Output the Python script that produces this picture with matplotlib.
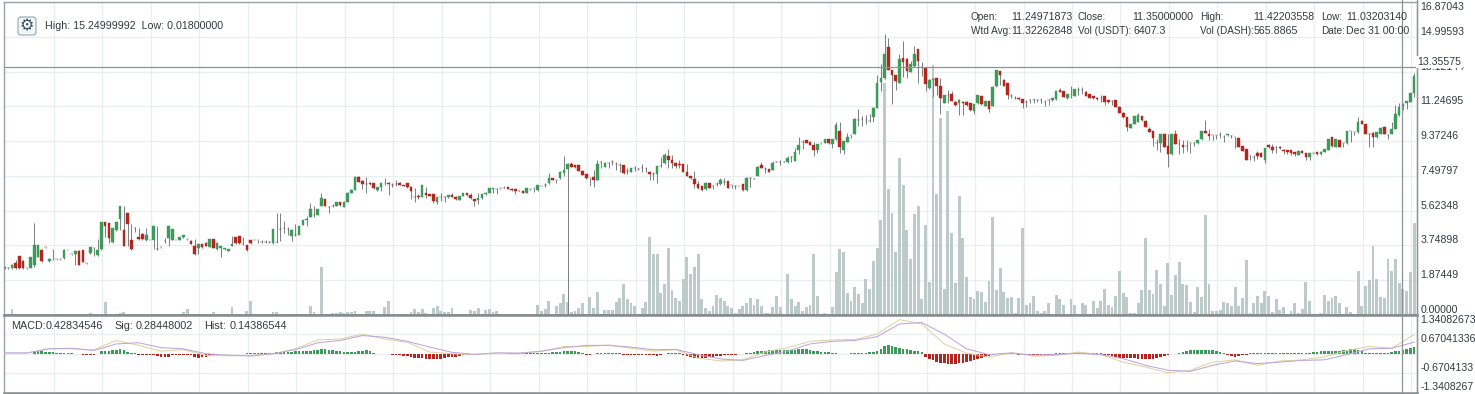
import numpy as np
from matplotlib import pyplot as plt
from matplotlib.patches import FancyBboxPatch

plt.rcParams['font.family'] = ['Liberation Sans', 'DejaVu Sans']

# candle data, one entry per candle
open_prices = [
    2.53,2.55,2.55,2.78,3.16,2.9,2.52,2.55,2.7,3.14,
    3.5,3.64,2.9,3.5,3.0,3.0,3.05,3.5,3.27,3.3,
    3.47,3.5,2.78,3.32,3.6,3.25,3.54,4.99,4.94,3.91,
    4.6,5.2,4.58,5.48,4.04,4.7,4.22,4.36,4.04,4.04,
    4.04,3.54,3.64,4.0,4.13,4.04,4.04,4.04,4.18,4.08,
    4.0,3.72,3.63,3.8,3.9,3.68,4.07,3.54,3.63,3.55,
    3.45,3.72,4.18,4.25,3.8,3.76,4.04,4.04,4.04,3.95,
    3.95,3.95,3.86,3.95,4.64,4.68,4.62,4.25,4.3,4.32,
    4.85,5.12,5.3,5.37,5.4,5.87,6.25,5.83,5.87,5.87,
    6.08,5.83,6.1,6.6,6.75,7.45,7.23,7.05,7.12,7.09,
    6.76,6.88,7.13,7.13,6.98,7.05,7.09,7.0,7.09,6.91,
    6.37,6.41,6.37,6.55,6.5,6.5,6.07,6.37,6.37,6.34,
    6.46,6.37,6.2,6.41,6.55,6.46,6.25,6.2,6.28,6.5,
    6.59,6.8,6.8,6.82,6.86,6.88,6.8,6.77,6.7,6.7,
    6.59,6.77,6.82,6.73,6.95,7.0,7.09,7.36,7.27,7.36,
    7.67,7.88,8.13,8.06,8.08,7.77,7.59,7.36,7.45,7.27,
    8.22,8.0,8.2,8.25,8.13,8.08,8.08,7.77,7.72,7.9,
    7.85,7.9,7.85,7.72,7.6,7.59,8.02,8.17,8.56,8.35,
    8.2,8.13,8.13,7.72,7.49,7.32,7.05,6.95,6.77,7.09,
    6.95,7.05,7.05,7.18,7.22,7.0,6.97,6.95,7.05,6.73,
    7.41,7.34,7.49,8.1,7.86,7.86,7.81,8.26,8.26,8.26,
    8.26,8.53,8.31,8.92,9.33,9.43,9.3,9.16,8.89,9.25,
    9.28,9.46,9.21,9.46,9.91,8.89,9.34,9.7,9.78,10.5,
    10.56,10.5,10.45,10.65,11.18,12.57,12.75,14.42,13.2,12.91,
    12.51,13.86,13.82,13.11,13.41,14.33,13.37,13.29,12.21,12.66,
    12.76,12.33,11.4,11.85,11.9,11.49,11.43,11.49,11.49,11.4,
    11.0,11.4,11.8,11.26,11.53,11.26,12.33,13.14,12.69,12.51,
    11.8,11.72,11.72,11.62,11.5,11.58,11.58,11.58,11.58,11.49,
    11.58,11.58,11.63,12.12,12.06,11.67,11.9,11.81,12.12,12.15,
    12.03,11.9,11.81,11.72,11.67,11.8,11.58,11.54,11.58,11.22,
    10.9,10.65,10.1,10.32,10.41,10.72,10.47,10.05,9.91,9.25,
    9.25,9.75,9.12,8.67,9.75,9.21,9.16,9.12,9.25,9.25,
    9.25,9.46,9.93,9.75,9.7,9.7,9.7,9.57,9.68,9.66,
    9.6,9.52,9.1,8.94,8.56,8.53,8.71,8.74,8.35,9.15,
    9.07,9.07,9.07,8.92,8.89,8.89,8.76,8.62,8.85,8.71,
    8.53,8.71,8.78,8.67,8.8,8.89,9.57,9.07,9.43,9.25,
    9.25,9.91,9.87,9.84,10.47,10.27,9.78,9.82,9.57,9.78,
    10.14,9.69,9.78,10.05,10.77,11.25,11.4,11.49,11.94,
]

close_prices = [
    2.57,2.56,2.72,2.56,2.55,2.55,2.52,3.12,3.75,3.75,
    2.9,3.64,3.0,3.5,3.0,3.0,3.5,3.5,3.27,3.47,
    2.7,2.87,2.78,3.64,3.62,3.5,4.99,4.79,4.15,4.67,
    4.99,5.87,3.72,4.9,3.54,4.7,4.08,4.08,4.3,4.04,
    4.79,3.54,3.64,4.0,4.79,4.61,4.04,4.18,4.3,4.08,
    3.82,3.28,3.8,3.65,3.72,4.07,3.62,3.9,3.72,3.6,
    3.55,3.8,3.86,3.86,3.8,3.48,3.86,4.04,4.04,3.95,
    3.95,3.95,4.64,3.95,4.64,4.68,4.62,4.58,4.3,4.79,
    5.12,5.2,5.7,5.37,5.7,6.28,5.87,5.83,5.87,6.08,
    5.92,6.1,6.6,6.75,7.45,7.18,7.05,7.05,7.05,6.82,
    6.88,7.09,7.14,7.06,6.98,7.05,7.0,6.95,6.88,6.7,
    6.37,6.34,7.0,6.46,6.44,6.14,6.34,6.37,6.37,6.46,
    6.37,6.23,6.41,6.55,6.46,6.28,6.14,6.28,6.5,6.59,
    6.82,6.82,6.8,6.82,6.86,6.8,6.73,6.7,6.7,6.59,
    6.82,6.77,6.82,6.98,6.95,7.0,7.36,7.3,7.27,7.72,
    7.81,8.13,7.99,8.0,7.77,7.54,7.36,7.36,7.27,8.13,
    8.22,8.2,8.2,8.25,8.13,8.08,7.63,7.77,7.93,7.9,
    7.85,7.9,7.85,7.59,7.6,8.02,8.02,8.62,8.35,8.17,
    8.02,8.08,7.72,7.49,7.36,7.05,6.82,6.73,7.13,6.86,
    6.95,7.05,7.27,7.18,6.86,7.0,6.97,6.95,6.73,7.41,
    7.38,7.34,7.99,7.92,7.86,7.72,8.17,8.26,8.26,8.26,
    8.44,8.53,8.76,9.16,9.33,9.28,9.16,8.92,9.2,9.25,
    9.46,9.25,9.46,10.23,9.07,9.37,9.57,9.7,10.56,10.5,
    10.56,10.5,10.45,11.18,12.51,12.8,14.06,13.2,12.91,12.62,
    13.82,13.64,13.14,13.52,14.09,13.7,13.37,12.44,12.69,12.7,
    12.35,11.72,11.85,11.85,11.53,11.31,11.6,11.4,11.31,11.04,
    11.36,11.85,11.36,11.53,11.08,12.3,13.2,12.93,12.35,11.85,
    11.8,11.72,11.62,11.44,11.5,11.58,11.58,11.58,11.58,11.49,
    11.58,11.67,12.08,12.03,11.76,11.9,11.92,12.17,12.12,12.15,
    11.8,11.72,11.67,11.62,11.67,11.49,11.49,11.54,11.22,10.9,
    10.65,10.14,10.29,10.72,10.77,10.5,10.14,9.87,9.55,9.25,
    9.75,9.07,8.67,9.75,9.21,9.21,9.07,9.12,9.25,9.25,
    9.43,9.91,9.82,9.64,9.7,9.7,9.7,9.57,9.75,9.66,
    9.6,9.07,8.85,8.35,8.56,8.53,8.56,8.53,9.0,9.03,
    8.89,9.07,8.98,8.85,8.8,8.75,8.67,8.85,8.75,8.53,
    8.71,8.71,8.67,8.8,8.94,9.48,9.1,9.48,9.07,9.25,
    9.91,9.91,9.87,10.41,10.29,9.75,9.78,9.57,9.87,10.1,
    9.75,9.69,10.05,10.82,11.22,11.35,11.53,11.94,12.88,
]

high_prices = [
    2.6,2.6,2.75,2.96,3.2,2.95,2.55,3.15,4.97,3.78,
    3.55,3.66,3.05,3.52,3.02,3.02,3.55,3.52,3.3,3.5,
    3.5,3.52,2.8,3.67,3.66,4.09,5.0,5.0,4.97,4.7,
    5.0,5.88,5.87,5.5,4.9,4.72,4.67,4.4,4.67,4.06,
    4.81,4.79,3.66,4.13,4.81,4.63,4.06,4.2,4.32,4.1,
    4.02,4.12,3.82,3.82,3.92,4.09,4.09,3.92,3.74,3.62,
    3.57,4.25,4.2,4.27,4.18,3.78,4.06,4.06,4.06,4.04,
    4.04,3.97,4.66,5.48,5.48,5.04,4.75,4.61,4.9,4.81,
    5.14,5.35,6.02,5.87,5.72,6.55,6.27,5.9,5.97,6.1,
    6.1,6.12,6.62,6.77,7.47,7.47,7.25,7.45,7.16,7.12,
    6.9,7.11,7.41,7.15,7.09,7.3,7.18,7.02,7.11,6.93,
    6.82,6.5,7.02,6.88,6.52,6.52,6.36,6.55,6.39,6.48,
    6.6,6.39,6.43,6.57,6.57,6.6,6.27,6.59,6.52,6.61,
    6.84,6.84,6.82,6.84,6.95,6.9,6.82,6.79,6.72,6.72,
    6.84,6.79,6.84,7.0,6.97,7.09,7.67,7.38,7.29,7.74,
    8.56,8.2,8.26,8.11,8.1,7.84,7.61,7.38,7.81,8.35,
    8.31,8.22,8.22,8.35,8.26,8.2,8.1,7.9,7.95,8.02,
    7.9,8.13,7.99,7.74,7.72,8.04,8.53,8.71,8.94,8.62,
    8.22,8.35,8.15,8.13,7.51,7.77,7.23,6.97,7.15,7.11,
    6.99,7.18,7.41,7.36,7.24,7.02,6.99,6.97,7.07,7.43,
    7.43,7.36,8.01,8.26,7.99,7.88,8.31,8.28,8.38,8.28,
    8.57,8.55,9.0,9.6,9.43,9.45,9.32,9.34,9.22,9.27,
    9.48,9.48,9.48,10.41,10.4,9.39,9.8,9.72,10.6,11.08,
    10.7,10.78,10.85,11.2,12.95,13.55,15.17,14.95,13.22,12.93,
    14.09,14.78,13.84,13.7,14.49,14.35,13.64,13.31,12.71,12.8,
    12.78,12.8,11.87,12.15,12.05,11.51,11.62,11.51,11.51,11.42,
    11.38,11.87,11.82,11.55,11.55,12.32,13.22,13.16,12.71,12.53,
    11.9,11.8,11.74,11.64,11.58,11.65,11.7,11.65,11.67,11.58,
    11.65,11.69,12.1,12.25,12.08,11.92,12.35,12.19,12.3,12.3,
    12.05,11.92,11.83,11.74,11.85,11.82,11.6,11.6,11.6,11.24,
    10.92,10.67,10.31,10.74,10.87,10.74,10.49,10.14,9.93,9.5,
    9.77,9.77,9.73,9.77,9.96,9.46,9.43,9.43,9.27,9.3,
    9.45,9.93,10.5,10.05,9.72,9.72,9.87,9.7,9.77,9.7,
    9.62,9.54,9.12,8.96,8.65,8.6,8.85,8.76,9.02,9.2,
    9.2,9.09,9.09,8.94,8.91,8.91,8.78,8.87,8.87,8.73,
    8.73,8.73,8.8,8.82,8.96,9.5,9.6,9.5,9.45,9.27,
    9.93,9.93,9.89,10.65,10.5,10.29,9.82,9.84,9.89,10.12,
    10.16,9.75,10.41,11.31,11.44,11.42,11.55,11.96,13.05,
]

low_prices = [
    2.5,2.5,2.5,2.5,2.5,2.5,2.5,2.52,2.6,3.1,
    2.85,3.6,2.85,2.96,2.98,2.98,3.0,3.48,3.25,2.7,
    2.68,2.85,2.76,3.3,3.2,3.2,3.5,4.18,3.9,3.88,
    4.55,4.6,3.7,3.72,3.5,4.5,4.05,4.05,4.0,4.02,
    3.54,3.52,3.62,3.86,3.72,4.02,4.02,4.02,4.16,4.06,
    3.8,3.26,3.28,3.63,3.7,3.66,3.6,3.52,3.12,3.53,
    3.43,3.7,3.84,3.84,3.76,3.46,3.84,4.02,3.86,3.86,
    3.86,3.86,3.84,3.86,4.0,4.4,4.3,4.0,4.25,4.3,
    4.83,4.8,5.27,5.27,5.37,5.85,5.85,5.51,5.8,5.85,
    5.9,5.8,6.08,6.58,6.73,7.16,6.8,6.55,7.03,6.8,
    6.7,6.7,7.0,6.46,6.88,6.95,6.98,6.93,6.86,6.25,
    6.1,6.25,6.35,6.3,6.42,6.01,6.0,6.16,6.1,6.3,
    6.35,6.21,6.18,6.39,6.44,6.26,5.87,6.0,6.26,6.48,
    6.57,6.57,6.5,6.8,6.84,6.78,6.71,6.5,6.68,6.57,
    6.57,6.75,6.64,6.71,6.93,6.88,7.07,7.28,7.13,7.34,
    7.5,0.018,7.97,7.9,7.75,7.52,7.34,6.95,6.91,7.25,
    7.9,8.0,7.95,8.1,7.8,7.72,7.61,7.6,7.7,7.75,
    7.8,7.72,7.72,7.3,7.27,7.13,8.0,8.15,7.9,7.9,
    7.9,7.9,7.7,7.47,7.34,6.82,6.8,6.71,6.75,6.84,
    6.77,6.95,7.03,6.98,6.84,6.82,6.77,6.93,6.71,6.71,
    6.91,7.32,7.47,7.9,7.67,7.7,7.79,8.24,8.08,8.24,
    8.17,8.26,8.29,8.7,8.97,9.26,9.14,8.55,8.74,9.23,
    9.26,9.23,9.0,9.44,8.74,8.7,9.32,9.54,9.76,10.2,
    10.2,10.28,10.4,10.38,11.16,12.09,12.7,13.18,11.36,12.15,
    12.49,12.82,12.8,13.09,13.39,12.48,12.88,12.1,12.19,11.76,
    11.85,10.83,11.4,11.4,11.51,11.29,10.8,10.77,11.29,11.02,
    10.83,11.38,11.34,11.24,10.92,11.24,12.31,12.4,12.33,11.62,
    11.7,11.65,11.6,11.15,11.22,11.4,11.4,11.5,11.4,11.26,
    11.3,11.56,11.61,12.01,11.74,11.65,11.67,11.79,11.85,11.9,
    11.78,11.7,11.65,11.6,11.49,11.3,11.42,11.3,11.2,10.88,
    10.63,9.91,10.08,10.3,10.39,10.48,10.12,9.85,9.1,8.89,
    8.8,9.05,7.99,8.65,9.19,8.67,8.75,8.85,8.75,9.1,
    9.23,9.44,9.8,9.43,9.43,9.46,9.52,9.34,9.66,9.52,
    9.0,9.05,8.83,8.33,8.35,8.3,8.4,8.51,8.2,9.01,
    8.71,8.74,8.96,8.67,8.67,8.62,8.57,8.6,8.73,8.35,
    8.35,8.69,8.65,8.65,8.78,8.87,9.08,9.05,9.05,9.07,
    9.23,9.34,9.7,9.82,10.27,9.73,9.07,9.07,9.55,9.76,
    9.73,9.48,9.76,10.03,10.75,11.03,11.13,11.47,11.76,
]

# volume, read against the price scale of the same pane
volumes = [
    .02,.02,.32,.05,.02,.02,.02,.02,.02,.02,
    .02,.02,.02,.02,.02,.02,.02,.02,.02,.02,
    .02,.02,.03,.09,.03,.02,.03,.68,.02,.02,
    .03,.09,.14,.03,.05,.02,.02,.02,.02,.02,
    .02,.02,.02,.02,.02,.02,.02,.02,.18,.32,
    .02,.03,.03,.02,.02,.03,.18,.02,.02,.02,
    .03,.41,.02,.02,.03,.2,.74,.02,.02,.02,
    .03,.05,.16,.16,.05,.02,.03,.02,.02,.05,
    .05,.02,.48,.14,.02,2.57,.05,.06,.1,.12,
    .14,.12,.14,.16,.2,.05,.05,.23,.2,.2,
    .02,.03,.45,.75,.02,.05,.02,.02,.02,.15,
    .3,.15,.3,.12,.03,.4,.47,.2,.15,.15,
    .4,.05,.05,.02,.05,.27,.2,.4,.02,.27,
    .3,.15,.2,.02,.02,.02,.02,.05,.05,.05,
    .05,.05,.02,.54,.2,.3,.75,.02,.47,.63,
    1.13,.72,.15,.2,.38,.66,.03,.97,.4,1.26,
    .08,.27,.27,.27,.7,.9,1.65,.84,.63,.47,
    .08,.4,.7,4.22,3.29,3.29,1.17,1.65,3.63,1.35,
    .9,.75,1.92,3.11,2.21,2.57,3.29,.84,.36,.2,
    .47,1.06,.9,.75,.47,.36,.1,.3,.48,.63,
    .9,.54,.84,.48,.13,.13,.41,1.02,.41,.02,
    2.19,.84,.48,.68,.23,.41,.54,3.29,1.02,.02,
    .13,.04,.41,2.33,3.54,3.41,1.17,.75,1.53,1.13,
    .63,1.92,1.38,2.91,3.59,5.12,12.48,6.77,5.48,3.41,
    8.44,7.0,4.58,3.0,5.42,5.87,.84,4.85,1.8,13.5,
    6.52,10.63,1.38,11.0,4.4,1.7,6.41,4.13,2.03,.99,
    .84,1.29,1.26,.72,1.83,5.26,1.35,2.51,1.26,.9,
    .99,.09,.9,4.69,.54,.63,1.02,.23,.13,.23,
    .66,.04,1.08,.84,.54,.04,.84,.54,.04,.63,
    .54,.03,.75,.36,.75,1.38,.54,.45,1.02,2.39,
    1.17,.95,.13,.09,.66,1.35,4.13,1.35,1.13,2.42,
    1.67,.48,2.78,1.08,2.15,2.84,1.67,1.6,.72,.18,
    1.49,.99,5.39,1.67,.22,.22,.27,.68,.63,.48,
    1.53,.48,.9,2.96,.13,.63,1.04,.66,1.29,1.02,
    .18,.86,.27,.41,.05,.22,.63,.09,.3,1.76,
    .75,.02,.02,.13,1.08,.77,.9,1.02,.63,.02,
    .41,.14,.02,2.39,.48,1.56,1.89,3.72,1.92,.99,
    .93,3.0,2.39,3.0,1.71,1.38,1.29,2.33,4.94,
]

hist_values = [
    -.01,-.01,-.01,-.01,-.01,-.01,-.01,-.01,.06,.08,
    .09,.07,.06,.05,.03,.01,.01,.01,.01,-.02,
    -.02,-.05,-.06,-.06,-.03,-.01,.08,.1,.11,.12,
    .13,.17,.13,.06,.02,.01,-.03,-.04,-.05,-.05,
    -.06,-.08,-.11,-.12,-.1,-.05,-.03,-.03,-.04,-.04,
    -.05,-.11,-.13,-.12,-.1,-.07,-.04,-.03,-.02,-.02,
    -.01,-.01,-.01,-.01,-.01,.01,.01,.01,.01,.01,
    .02,.03,.03,.05,.07,.07,.07,.07,.08,.08,
    .09,.09,.1,.12,.13,.17,.15,.14,.13,.11,
    .08,.06,.05,.05,.05,.08,.1,.12,.11,.02,
    -.01,-.01,-.01,-.02,-.04,-.05,-.06,-.07,-.08,-.1,
    -.15,-.15,-.16,-.17,-.17,-.18,-.18,-.17,-.16,-.12,
    -.11,-.1,-.08,-.06,-.05,-.04,-.03,-.03,-.02,-.02,
    -.01,-.01,-.01,-.01,-.01,.01,.01,.01,.01,.01,
    .01,.01,.01,.01,.02,.03,.04,.05,.06,.07,
    .08,.09,.1,.1,.06,.01,-.03,-.03,-.01,.01,
    .01,.01,.02,.02,.02,.01,-.03,-.03,-.04,-.04,
    -.05,-.05,-.05,-.05,-.06,-.07,-.04,-.02,.01,.01,
    .01,.01,-.05,-.07,-.1,-.13,-.13,-.14,-.13,-.12,
    -.1,-.09,-.08,-.06,-.05,-.04,-.03,-.02,-.02,.02,
    .04,.06,.08,.1,.11,.12,.13,.13,.13,.13,
    .14,.13,.14,.15,.16,.15,.12,.1,.08,.07,
    .05,.05,.04,.03,-.01,-.01,-.01,.01,.01,.02,
    .03,.04,.05,.06,.1,.17,.26,.3,.28,.22,
    .2,.18,.16,.12,.1,.08,.06,-.12,-.17,-.22,
    -.27,-.31,-.33,-.34,-.34,-.34,-.33,-.31,-.28,-.24,
    -.2,-.17,-.14,-.11,-.08,-.05,-.02,.02,.03,.02,
    .01,-.01,-.03,-.04,-.05,-.05,-.06,-.05,-.05,-.04,
    -.04,-.03,.01,.01,.01,.01,.01,.01,.01,.01,
    .01,.01,.01,.01,.01,-.04,-.06,-.09,-.12,-.13,
    -.14,-.15,-.15,-.16,-.17,-.17,-.18,-.17,-.17,-.15,
    -.12,-.08,-.05,-.02,-.01,.01,.07,.1,.12,.13,
    .13,.13,.13,.13,.12,.1,.07,.01,-.05,-.08,
    -.1,-.09,-.06,-.03,.01,.02,.02,.03,.02,.02,
    .02,.02,.02,.02,.02,.02,.02,.02,.02,.03,
    .03,.05,.07,.09,.08,.1,.1,.1,.1,.12,
    .14,.16,.15,.12,.08,.03,.03,.03,.02,.02,
    .02,.03,.06,.09,.11,.14,.17,.2,.24,
]

# MACD lines are read every sixth candle
macd_candles = list(range(0, 379, 6))
macd_line = [
    .02,.02,.18,.17,.14,.46,.29,.09,.14,-.06,-.07,-.06,0,.17,.48,.51,.68,.51,.4,.06,0,-.03,.02,
    .02,.08,.25,.25,.3,.19,.09,.14,-.15,-.25,-.21,.06,.21,.43,.48,.49,.68,1.18,1.03,.34,.02,-.11,
    .03,-.08,-.06,.06,-.03,-.29,-.46,-.66,-.57,-.29,-.21,-.4,-.25,-.21,-.11,.11,.25,.19,.66,
]
signal_line = [
    .03,.03,.17,.19,.11,.34,.38,.21,.17,0,-.05,-.08,0,.14,.38,.46,.63,.57,.43,.23,.05,-.02,.03,
    .02,.09,.21,.29,.29,.23,.14,.15,-.03,-.18,-.23,-.06,.09,.34,.43,.46,.59,1.03,1.08,.68,.17,-.03,
    .03,-.05,-.03,.02,-.03,-.17,-.4,-.57,-.61,-.4,-.25,-.34,-.29,-.23,-.21,-.03,.17,.19,.4,
]

price_ticks = [0.0, 1.87449, 3.74898, 5.62348, 7.49797, 9.37246, 11.24695, 13.12144, 14.99593, 16.87043]
macd_ticks = [1.34082673, 0.67041336, 0.0, -0.6704133, -1.3408267]
macd_tick_labels = ['1.34082673', '0.67041336', '', '-0.6704133', '-1.3408267']

crosshair_price = 13.35575

GREEN = '#3c9a5a'
RED = '#b3261e'
GRID = '#e9eeee'
BORDER = '#9aa3a3'
TEXT = '#333a3d'
W, H = 1475, 394


def fx(x):
    return x / W


def fy(y):
    return 1 - y / H


def body_colors(o, c):
    return [GREEN if b > a else RED if b < a else '#444444' for a, b in zip(o, c)]


o, c = np.array(open_prices), np.array(close_prices)
hi, lo = np.array(high_prices), np.array(low_prices)
x = np.arange(len(c))

fig = plt.figure(figsize=(W / 100, H / 100), dpi=100)
left, right = 3.5, 1417.0
ax = fig.add_axes([fx(left), fy(315), fx(right - left), (315 - 2) / H])
ax2 = fig.add_axes([fx(left), fy(392.5), fx(right - left), (392.5 - 315) / H])

# candle index -> pixel is 4.5 + 3.729 * i
xlim = ((left - 4.5) / 3.729, (right - 4.5) / 3.729)
grid_x = np.arange(13.27, 378, 13)

ax.bar(x, volumes, width=0.78, color='#bccbc8', zorder=2)
ax.vlines(x, lo, hi, color='#7a7f7f', lw=0.7, zorder=3)
ax.bar(x, np.abs(c - o), bottom=np.minimum(o, c), width=0.7,
       color=body_colors(o, c), edgecolor=body_colors(o, c), lw=0.3, zorder=4)
ax.set_xlim(xlim)
ax.set_ylim(0, 16.87043)
ax.set_xticks(grid_x)
ax.set_yticks(price_ticks)
ax.set_yticklabels(['%.5f' % t for t in price_ticks])
ax.axhline(crosshair_price, color='#8c9494', lw=0.9, zorder=5)

ax2.bar(x, hist_values, width=0.7, color=[GREEN if h > 0 else RED for h in hist_values], zorder=2)
ax2.plot(macd_candles, macd_line, color='#e0cf9c', lw=0.7, zorder=3)
ax2.plot(macd_candles, signal_line, color='#bfa6dc', lw=0.75, zorder=4)
ax2.set_xlim(xlim)
ax2.set_ylim(-1.3408267, 1.31)
ax2.set_xticks(grid_x)
ax2.set_yticks(macd_ticks)
ax2.set_yticklabels(macd_tick_labels)

for a in (ax, ax2):
    a.grid(True, color=GRID, lw=0.9, zorder=0)
    a.set_axisbelow(True)
    a.yaxis.tick_right()
    a.tick_params(axis='x', length=0, labelbottom=False)
    a.tick_params(axis='y', length=0, pad=2.5, labelsize=7.6, labelcolor=TEXT)
    for s in a.spines.values():
        s.set_color(BORDER)
        s.set_linewidth(1.0)

# labels sit above their gridline, except where the pane edge pushes them
for i, t in enumerate(ax.get_yticklabels()):
    t.set_va('top' if i == len(price_ticks) - 1 else 'bottom')
for val, t in zip(macd_ticks, ax2.get_yticklabels()):
    t.set_va('top' if val > 0 else 'bottom')

ax.spines['bottom'].set_linewidth(1.8)
ax.spines['bottom'].set_color('#858c8c')
ax2.spines['top'].set_linewidth(1.8)
ax2.spines['top'].set_color('#858c8c')
ax2.spines['bottom'].set_linewidth(1.8)
ax2.spines['bottom'].set_color('#858c8c')

# vertical crosshair and price scale edge run through both panes
for px in (1402, 1416.7):
    fig.add_artist(plt.Line2D([fx(px), fx(px)], [fy(0), fy(392)], color='#8c9494', lw=0.9))

fig.text(fx(1417.5), fy(67), '%.5f' % crosshair_price, fontsize=7.6, color=TEXT, va='bottom', ha='left',
         bbox=dict(facecolor='white', edgecolor='none', pad=1.0), zorder=10)

# settings button and range text
fig.add_artist(FancyBboxPatch((fx(18), fy(35)), 18 / W, 18 / H, transform=fig.transFigure,
                              boxstyle='round,pad=0,rounding_size=0.002', mutation_aspect=W / H,
                              facecolor='#f2f4f5', edgecolor='#9fb0b8', lw=0.9))
fig.text(fx(27), fy(25.5), '\u2699', family='DejaVu Sans', fontsize=11.5, color='#3a4e5c', ha='center', va='center')
fig.text(fx(45), fy(26), 'High: 15.24999992  Low: 0.01800000', fontsize=7.7, color=TEXT, va='center')

# info block, top right: labels come out a bit narrower than the numbers
info_labels = [
    (17, [(971, 'Open:'), (1078, 'Close:'), (1200, 'High:'), (1321, 'Low:')]),
    (31, [(971, 'Wtd Avg:'), (1078, 'Vol (USDT):'), (1200, 'Vol (DASH):'), (1321, 'Date:')]),
]
info_numbers = [
    (17, [(1011, '11.24971873'), (1132, '11.35000000'), (1253, '11.42203558'), (1346, '11.03203140')]),
    (31, [(1011, '11.32262848'), (1133, '6407.3'), (1254, '565.8865'), (1346, 'Dec 31 00:00')]),
]
for row_y, cells in info_labels:
    for cell_x, s in cells:
        fig.text(fx(cell_x), fy(row_y), s, fontsize=7.2, color=TEXT, va='center')
for row_y, cells in info_numbers:
    for cell_x, s in cells:
        fig.text(fx(cell_x), fy(row_y), s, fontsize=7.7, color=TEXT, va='center')

for cell_x, s in [(10.7, 'MACD:'), (46, '0.42834546'), (114, 'Sig:'), (136, '0.28448002'),
                  (204, 'Hist:'), (230, '0.14386544')]:
    fig.text(fx(cell_x), fy(326), s, fontsize=7.8, color=TEXT, va='center')

fig.savefig('out.png', dpi=100)
